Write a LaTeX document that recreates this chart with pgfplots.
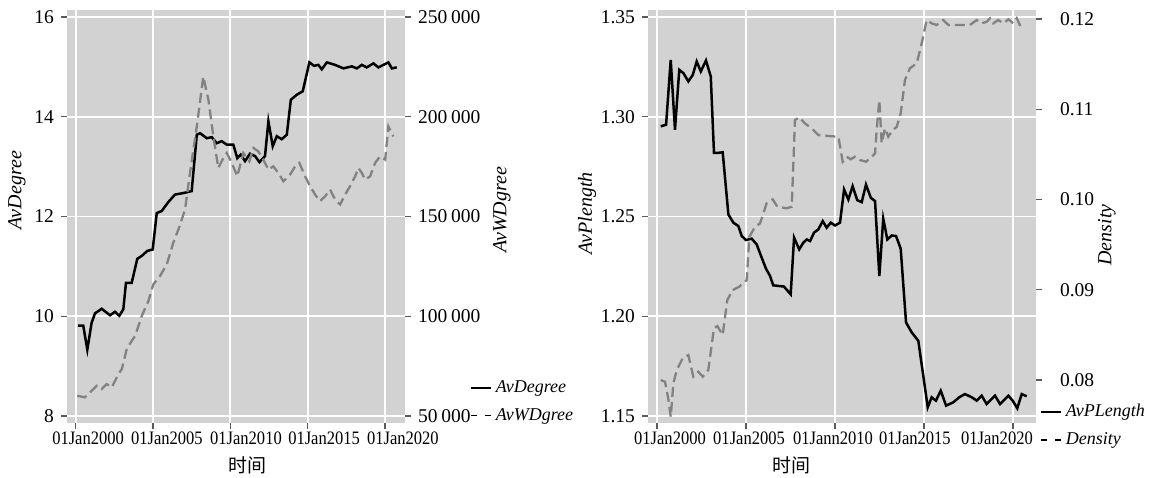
\documentclass[border=0pt]{standalone}
\usepackage{pgfplots}
\pgfplotsset{compat=1.18}
\usepackage{pgfplotstable}
\usepackage{graphicx}
\usepackage{fontspec}
\setmainfont{Liberation Serif}
\newfontfamily\cjk{Noto Sans CJK SC}

\definecolor{panelbg}{RGB}{210,210,210}
\definecolor{dashgray}{RGB}{130,130,130}
\definecolor{tickgray}{RGB}{90,90,90}

\pgfplotstableread{
x y
2000.15 9.81
2000.49 9.81
2000.75 9.33
2001.03 9.87
2001.25 10.06
2001.68 10.15
2002.22 10.02
2002.54 10.09
2002.82 10.01
2003.08 10.14
2003.25 10.67
2003.62 10.67
2003.98 11.15
2004.27 11.21
2004.63 11.31
2004.98 11.34
2005.24 12.07
2005.56 12.11
2005.99 12.29
2006.42 12.44
2006.96 12.47
2007.50 12.51
2007.83 13.64
2008.04 13.67
2008.47 13.57
2008.80 13.59
2009.12 13.47
2009.44 13.51
2009.77 13.44
2010.19 13.44
2010.45 13.17
2010.67 13.24
2010.95 13.11
2011.27 13.26
2011.60 13.21
2011.88 13.09
2012.24 13.21
2012.46 13.91
2012.74 13.41
2013.00 13.61
2013.32 13.55
2013.65 13.64
2013.91 14.34
2014.29 14.44
2014.68 14.51
2015.11 15.09
2015.41 15.02
2015.69 15.04
2015.91 14.95
2016.24 15.09
2016.77 15.04
2017.31 14.97
2017.85 15.01
2018.18 14.97
2018.50 15.04
2018.82 14.99
2019.25 15.07
2019.57 14.99
2019.90 15.04
2020.22 15.09
2020.44 14.97
2020.76 14.99
}\leftsolid

\pgfplotstableread{
x y
2000.10 60150
2000.60 59350
2001.03 62650
2001.36 65150
2001.68 63500
2002.01 66000
2002.33 64350
2002.76 71000
2002.98 73500
2003.30 83500
2003.62 87650
2003.84 90150
2004.27 100150
2004.70 107650
2005.02 116000
2005.45 120150
2005.89 126000
2006.31 136850
2006.64 143500
2007.07 153500
2007.39 171850
2007.83 195150
2008.25 220150
2008.58 208500
2008.90 190150
2009.22 174350
2009.55 179350
2009.77 181850
2010.09 176850
2010.45 170150
2010.84 181850
2011.23 177650
2011.49 184350
2011.81 182650
2012.13 178500
2012.46 173500
2012.78 175150
2013.10 171850
2013.43 167650
2013.86 171000
2014.19 175150
2014.46 176850
2014.83 170150
2015.16 165150
2015.48 161000
2015.80 157650
2016.13 160150
2016.45 163500
2016.66 160150
2016.88 157650
2017.10 156000
2017.42 161000
2017.74 165150
2018.07 170150
2018.28 174350
2018.50 171850
2018.71 168500
2019.04 170150
2019.36 176850
2019.68 180150
2020.01 178500
2020.22 195150
2020.54 190150
}\leftdash

\pgfplotstableread{
x y
2000.21 1.2952
2000.51 1.2960
2000.77 1.3285
2001.01 1.2935
2001.25 1.3235
2001.48 1.3219
2001.76 1.3177
2002.01 1.3210
2002.23 1.3277
2002.46 1.3227
2002.75 1.3282
2003.02 1.3202
2003.20 1.2819
2003.44 1.2819
2003.69 1.2822
2004.01 1.2510
2004.29 1.2469
2004.57 1.2452
2004.76 1.2402
2005.00 1.2382
2005.32 1.2389
2005.60 1.2360
2005.88 1.2294
2006.12 1.2239
2006.35 1.2202
2006.53 1.2155
2006.81 1.2152
2007.13 1.2149
2007.51 1.2110
2007.70 1.2394
2007.99 1.2335
2008.22 1.2369
2008.41 1.2385
2008.60 1.2377
2008.82 1.2419
2009.06 1.2435
2009.31 1.2477
2009.53 1.2444
2009.76 1.2469
2010.00 1.2455
2010.28 1.2469
2010.51 1.2635
2010.75 1.2585
2010.99 1.2652
2011.25 1.2582
2011.50 1.2572
2011.74 1.2660
2012.01 1.2594
2012.25 1.2577
2012.49 1.2202
2012.71 1.2489
2012.94 1.2385
2013.19 1.2405
2013.43 1.2402
2013.69 1.2339
2013.99 1.1969
2014.31 1.1919
2014.68 1.1877
2015.21 1.1544
2015.43 1.1594
2015.67 1.1577
2015.94 1.1627
2016.24 1.1552
2016.65 1.1569
2016.98 1.1594
2017.30 1.1610
2017.68 1.1594
2017.96 1.1577
2018.24 1.1602
2018.52 1.1560
2018.99 1.1602
2019.27 1.1560
2019.74 1.1602
2019.98 1.1577
2020.24 1.1539
2020.49 1.1610
2020.77 1.1599
}\rightsolid

\pgfplotstableread{
x y
2000.21 0.08000
2000.45 0.07981
2000.63 0.07797
2000.77 0.07593
2000.92 0.07964
2001.11 0.08111
2001.44 0.08241
2001.76 0.08277
2002.04 0.08037
2002.32 0.08092
2002.57 0.08037
2002.88 0.08111
2003.20 0.08573
2003.39 0.08598
2003.69 0.08499
2003.95 0.08887
2004.25 0.08997
2004.62 0.09034
2005.04 0.09108
2005.19 0.09588
2005.51 0.09699
2005.79 0.09736
2006.16 0.09958
2006.50 0.10002
2006.76 0.09920
2007.29 0.09903
2007.57 0.09920
2007.75 0.10881
2007.99 0.10911
2008.31 0.10844
2008.69 0.10789
2009.06 0.10715
2009.62 0.10704
2010.19 0.10696
2010.32 0.10549
2010.43 0.10419
2010.66 0.10474
2010.88 0.10446
2011.12 0.10474
2011.40 0.10438
2011.74 0.10419
2012.06 0.10474
2012.25 0.10512
2012.34 0.10770
2012.49 0.11103
2012.62 0.10623
2012.81 0.10789
2012.99 0.10696
2013.24 0.10770
2013.47 0.10807
2013.69 0.10955
2013.93 0.11324
2014.21 0.11454
2014.59 0.11509
2014.87 0.11731
2015.15 0.11989
2015.43 0.11952
2015.71 0.11934
2016.08 0.11989
2016.37 0.11934
2016.84 0.11934
2017.21 0.11934
2017.58 0.11934
2017.96 0.11989
2018.24 0.11952
2018.52 0.11970
2018.71 0.12008
2018.89 0.11952
2019.17 0.11989
2019.46 0.11952
2019.74 0.11997
2020.02 0.11952
2020.21 0.12008
2020.43 0.11915
}\rightdash

\newcommand{\xl}[1]{\scalebox{0.87}[1]{#1}}

\pgfplotsset{
  mypanel/.style={
    scale only axis, height=206.5pt,
    axis line style={draw=none},
    tick align=outside, major tick length=3pt,
    tick style={tickgray, line width=0.6pt},
    yticklabel style={font=\fontsize{9.75}{10}\selectfont},
    xticklabel style={font=\fontsize{9.5}{10}\selectfont, yshift=-1pt},
    scaled y ticks=false,
    label style={font=\fontsize{10}{12}\selectfont\itshape},
  },
  mainax/.style={
    axis background/.style={fill=panelbg},
    grid=major, grid style={white, line width=0.9pt},
    xtick={2000,2005,2010,2015,2020},
    xticklabels={},
    extra x tick style={major tick length=0pt, grid=none},
    xtick pos=left, ytick pos=left,
    xlabel style={font=\fontsize{9.5}{12}\selectfont\cjk, anchor=center},
  },
  secax/.style={
    axis x line=none, axis y line*=right,
    legend cell align=left,
  },
  solidline/.style={black, line width=1.25pt},
  dashline/.style={dashgray, line width=1.15pt, dash pattern=on 5pt off 2.5pt},
  solidkey/.style={legend image code/.code={\draw[black, line width=0.8pt] (0pt,0pt) -- (10pt,0pt);}},
  dashkey/.style={legend image code/.code={\draw[black, line width=0.8pt, dash pattern=on 3pt off 4pt] (0pt,0pt) -- (10pt,0pt);}},
}

\begin{document}
\begin{tikzpicture}
\path[use as bounding box] (0pt,0pt) rectangle (578pt,238.5pt);

% ---------- left panel ----------
\begin{axis}[mypanel, mainax,
  at={(33.5pt,27pt)}, anchor=south west, width=169pt,
  xmin=1999.437, xmax=2021.293, ymin=7.86, ymax=16.14,
  ytick={8,10,12,14,16},
  yticklabels={8,10,12,14,16},
  extra x ticks={2000.80,2005.90,2011.01,2016.06,2021.16},
  extra x tick labels={\xl{01Jan2000},\xl{01Jan2005},\xl{01Jan2010},\xl{01Jan2015},\xl{01Jan2020}},
  xlabel={时间},
  xlabel style={at={(axis description cs:0.533,-0.102)}},
  ylabel={AvDegree},
  ylabel style={at={(axis description cs:-0.148,0.564)}, anchor=center},
]
\addplot[solidline] table {\leftsolid};
\end{axis}

\begin{axis}[mypanel, secax,
  at={(33.5pt,27pt)}, anchor=south west, width=169pt,
  xmin=1999.437, xmax=2021.293, ymin=46491, ymax=253509,
  ytick={50000,100000,150000,200000,250000},
  yticklabels={50\hspace{0.2em}000,100\hspace{0.2em}000,150\hspace{0.2em}000,200\hspace{0.2em}000,250\hspace{0.2em}000},
  ylabel={AvWDgree},
  ylabel style={at={(axis description cs:1.287,0.516)}, anchor=center},
  legend style={at={(axis description cs:1.192,0.114)}, anchor=north west,
    draw=none, fill=none, inner sep=0pt, row sep=2.5pt,
    font=\fontsize{9}{10}\selectfont\itshape, cells={anchor=west}},
]
\addlegendimage{solidkey}
\addlegendentry{AvDegree}
\addplot[dashline, dashkey] table {\leftdash};
\addlegendentry{AvWDgree}
\end{axis}

% ---------- right panel ----------
\begin{axis}[mypanel, mainax,
  at={(324pt,27pt)}, anchor=south west, width=194pt,
  xmin=1999.494, xmax=2021.292, ymin=1.1465, ymax=1.3535,
  ytick={1.15,1.20,1.25,1.30,1.35},
  yticklabels={1.15,1.20,1.25,1.30,1.35},
  extra x ticks={2000.73,2005.17,2009.89,2014.49,2019.10},
  extra x tick labels={\xl{01Jan2000},\xl{01Jan2005},\xl{01Jann2010},\xl{01Jan2015},\xl{01Jan2020}},
  xlabel={时间},
  xlabel style={at={(axis description cs:0.371,-0.102)}},
  ylabel={AvPlength},
  ylabel style={at={(axis description cs:-0.157,0.508)}, anchor=center},
]
\addplot[solidline] table {\rightsolid};
\end{axis}

\begin{axis}[mypanel, secax,
  at={(324pt,27pt)}, anchor=south west, width=194pt,
  xmin=1999.494, xmax=2021.292, ymin=0.07524, ymax=0.1210,
  ytick={0.08,0.09,0.10,0.11,0.12},
  yticklabels={0.08,0.09,0.10,0.11,0.12},
  yticklabel style={xshift=5.5pt},
  ylabel={Density},
  ylabel style={at={(axis description cs:1.183,0.455)}, anchor=center},
  legend style={at={(axis description cs:1.010,0.056)}, anchor=north west,
    draw=none, fill=none, inner sep=0pt, row sep=2.5pt,
    font=\fontsize{9}{10}\selectfont\itshape, cells={anchor=west}},
]
\addlegendimage{solidkey}
\addlegendentry{AvPLength}
\addplot[dashline, dashkey] table {\rightdash};
\addlegendentry{Density}
\end{axis}
\end{tikzpicture}
\end{document}
